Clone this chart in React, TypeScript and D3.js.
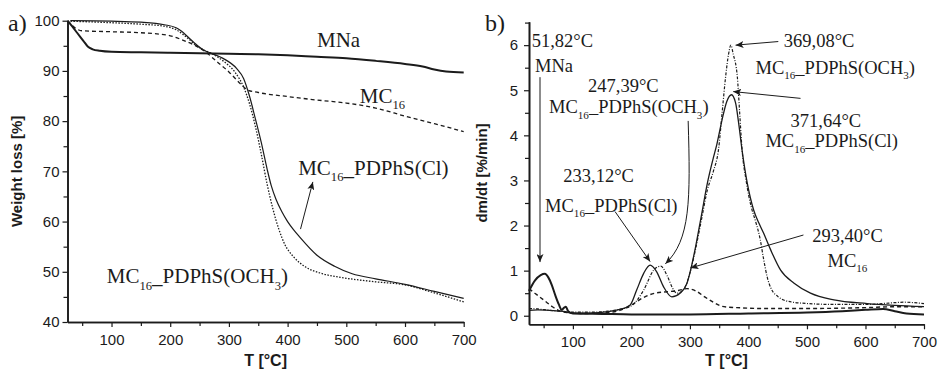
import React, { useEffect, useRef } from 'react';
import * as d3 from 'd3';

// ---- a) TG curves: temperature [°C] and weight [%] ----
const tgMNaT = [25, 32, 42, 52, 60, 68, 80, 100, 150, 200, 250, 300, 350, 400, 450, 500, 550, 600, 630, 650, 670, 700];
const tgMNa = [100, 99.0, 97.5, 96.0, 94.8, 94.3, 94.0, 93.8, 93.7, 93.6, 93.5, 93.4, 93.3, 93.1, 92.8, 92.5, 92.0, 91.4, 90.9, 90.3, 89.9, 89.7];

const tgMC16T = [25, 32, 40, 50, 100, 150, 200, 220, 240, 260, 280, 300, 320, 332, 350, 400, 450, 500, 550, 600, 650, 700];
const tgMC16 = [100, 99.2, 98.4, 98.0, 97.8, 97.6, 97.0, 96.2, 95.2, 93.8, 91.8, 89.8, 87.4, 86.2, 85.7, 84.9, 84.2, 83.6, 82.6, 81.0, 79.5, 77.9];

const tgClT = [30, 100, 150, 190, 210, 217, 239, 256, 270, 290, 313, 325, 335, 345, 355, 365, 372, 380, 390, 400, 410, 420, 450, 480, 510, 550, 600, 650, 700];
const tgCl = [100, 99.9, 99.7, 99.2, 98.6, 98.1, 95.8, 94.2, 93.5, 92.5, 90.5, 88.5, 85.0, 80.5, 75.8, 70.5, 67.2, 64.5, 62.0, 60.0, 58.4, 57.0, 53.3, 51.1, 49.6, 48.6, 47.5, 46.1, 44.7];

const tgOCH3T = [30, 100, 150, 190, 210, 230, 245, 260, 270, 290, 310, 325, 335, 345, 355, 365, 375, 385, 395, 410, 430, 460, 490, 550, 600, 650, 700];
const tgOCH3 = [99.9, 99.6, 99.3, 98.9, 98.2, 96.5, 95.0, 94.0, 93.5, 92.0, 89.8, 86.8, 83.5, 79.0, 73.5, 67.5, 62.5, 58.5, 55.5, 53.0, 51.0, 49.6, 48.9, 48.0, 47.4, 45.8, 44.0];

// ---- b) DTG curves: temperature [°C] and dm/dt [%/min] ----
const dtgMNaT = [25, 35, 45, 52, 58, 64, 70, 76, 81, 85, 88, 92, 100, 150, 200, 300, 400, 500, 560, 600, 630, 650, 670, 700];
const dtgMNa = [0.55, 0.78, 0.9, 0.93, 0.85, 0.68, 0.45, 0.25, 0.13, 0.18, 0.2, 0.1, 0.05, 0.04, 0.03, 0.03, 0.05, 0.07, 0.1, 0.13, 0.15, 0.1, 0.05, 0.03];

const dtgMC16T = [25, 35, 45, 55, 65, 75, 90, 120, 150, 180, 200, 220, 240, 260, 280, 295, 310, 325, 340, 352, 365, 380, 420, 500, 600, 650, 700];
const dtgMC16 = [0.6, 0.5, 0.4, 0.3, 0.2, 0.12, 0.07, 0.05, 0.06, 0.12, 0.24, 0.4, 0.5, 0.53, 0.56, 0.6, 0.55, 0.42, 0.3, 0.22, 0.19, 0.18, 0.16, 0.16, 0.18, 0.2, 0.2];

const dtgClT = [25, 40, 60, 80, 100, 130, 160, 180, 198, 209, 221, 232, 243, 255, 269, 283, 295, 300, 310, 320, 330, 340, 346, 355, 363, 371, 378, 383, 389, 398, 409, 418, 426, 438, 455, 478, 506, 546, 603, 650, 700];
const dtgCl = [0.12, 0.13, 0.12, 0.1, 0.06, 0.06, 0.09, 0.14, 0.24, 0.57, 0.94, 1.12, 0.98, 0.64, 0.42, 0.5, 0.72, 0.95, 1.55, 2.25, 2.95, 3.5, 3.8, 4.35, 4.75, 4.9, 4.72, 4.3, 3.68, 2.94, 2.34, 2.05, 1.83, 1.46, 1.01, 0.72, 0.5, 0.35, 0.27, 0.23, 0.2];

const dtgOCH3T = [25, 40, 60, 80, 100, 130, 160, 180, 200, 221, 238, 250, 262, 270, 278, 290, 300, 310, 320, 330, 340, 349, 355, 361, 366, 370, 374, 381, 385, 389, 396, 405, 412, 420, 426, 432, 440, 450, 460, 490, 550, 600, 640, 665, 700];
const dtgOCH3 = [0.16, 0.15, 0.12, 0.1, 0.08, 0.08, 0.1, 0.14, 0.22, 0.57, 1.01, 1.1, 0.86, 0.62, 0.5, 0.6, 0.95, 1.5, 2.15, 2.8, 3.2, 3.7, 4.5, 5.3, 5.8, 6.0, 5.8, 5.3, 4.5, 3.7, 3.0, 2.4, 2.1, 1.7, 1.25, 0.86, 0.57, 0.43, 0.35, 0.28, 0.25, 0.25, 0.28, 0.3, 0.27];

const tgTicks = [40, 50, 60, 70, 80, 90, 100];
const dtgTicks = [0, 1, 2, 3, 4, 5, 6];
const tTicks = [100, 200, 300, 400, 500, 600, 700];

type Part = { t: string; sub?: boolean };
const lblMNa: Part[] = [{ t: 'MNa' }];
const lblMC16: Part[] = [{ t: 'MC' }, { t: '16', sub: true }];
const lblCl: Part[] = [{ t: 'MC' }, { t: '16', sub: true }, { t: '_' }, { t: 'PDPhS(Cl)' }];
const lblOCH3: Part[] = [{ t: 'MC' }, { t: '16', sub: true }, { t: '_' }, { t: 'PDPhS(OCH' }, { t: '3', sub: true }, { t: ')' }];

// labels placed in data units (T, value)
const tgLabels: [number, number, Part[]][] = [
  [450, 94.8, lblMNa],
  [523, 83.6, lblMC16],
  [418, 69.3, lblCl],
  [92, 47.7, lblOCH3],
];
const dtgLabels: [number, number, Part[]][] = [
  [29.6, 5.96, [{ t: '51,82°C' }]],
  [35.3, 5.41, lblMNa],
  [126, 4.97, [{ t: '247,39°C' }]],
  [59.2, 4.49, lblOCH3],
  [460.4, 5.96, [{ t: '369,08°C' }]],
  [412, 5.37, lblOCH3],
  [472, 4.18, [{ t: '371,64°C' }]],
  [429, 3.74, lblCl],
  [83.7, 2.97, [{ t: '233,12°C' }]],
  [52.4, 2.31, lblCl],
  [509, 1.64, [{ t: '293,40°C' }]],
  [535, 1.09, lblMC16],
];
// arrows [T0, v0, T1, v1]
const tgArrows = [[422, 58.5, 443, 67.9]];
const dtgArrows = [
  [43.8, 5.29, 43.8, 1.19],
  [451, 6.08, 378, 6.0],
  [489, 4.82, 374, 4.97],
  [172, 2.31, 232, 1.2],
  [494, 1.79, 301, 1.06],
];

const SERIF = '"Liberation Serif", "Times New Roman", serif';
const SANS = '"Liberation Sans", Arial, sans-serif';
const INK = '#1b1b1b';

function addLabel(g: any, x: number, y: number, size: number, parts: Part[]) {
  const t = g.append('text').attr('x', x).attr('y', y)
    .attr('font-family', SERIF).attr('font-size', size).attr('fill', INK);
  let prevSub = false;
  const sh = size * 0.3;
  parts.forEach(p => {
    const dy = p.sub && !prevSub ? sh : (!p.sub && prevSub ? -sh : 0);
    t.append('tspan').attr('dy', dy).attr('font-size', p.sub ? size * 0.6 : size).text(p.t);
    prevSub = !!p.sub;
  });
}

function drawPanel(svg: any, x: any, y: any, yTicks: number[], yMinor: number[], xMinor: number[], yPad: number) {
  const g = svg.append('g');
  const xb = y.range()[0];
  const yl = x.range()[0];

  const ax = g.append('g').attr('transform', `translate(0,${xb})`)
    .call(d3.axisBottom(x).tickValues(tTicks).tickSize(5).tickSizeOuter(0).tickPadding(7).tickFormat(d3.format('d')));
  g.append('g').attr('transform', `translate(0,${xb})`)
    .call(d3.axisBottom(x).tickValues(xMinor).tickSize(4).tickSizeOuter(0).tickFormat(() => ''));
  const ay = g.append('g').attr('transform', `translate(${yl},0)`)
    .call(d3.axisLeft(y).tickValues(yTicks).tickSize(5).tickSizeOuter(0).tickPadding(yPad).tickFormat(d3.format('d')));
  g.append('g').attr('transform', `translate(${yl},0)`)
    .call(d3.axisLeft(y).tickValues(yMinor).tickSize(4).tickSizeOuter(0).tickFormat(() => ''));

  g.selectAll('.domain').attr('stroke', INK).attr('stroke-width', 1.6);
  g.selectAll('.tick line').attr('stroke', INK).attr('stroke-width', 1.2);
  [ax, ay].forEach(a => a.selectAll('text').attr('font-family', SANS).attr('font-size', 15).attr('fill', INK));
  return g;
}

function drawLine(g: any, x: any, y: any, ts: number[], vs: number[], w: number, dash: string | null) {
  const line = d3.line<number>()
    .x((_, i) => x(ts[i]))
    .y(d => y(d))
    .curve(d3.curveMonotoneX);
  g.append('path').attr('d', line(vs)).attr('fill', 'none')
    .attr('stroke', INK).attr('stroke-width', w)
    .attr('stroke-dasharray', dash);
}

export default function App() {
  const ref = useRef<SVGSVGElement>(null);

  function draw() {
    const svg = d3.select(ref.current);
    svg.selectAll('*').remove();

    svg.append('defs').append('marker')
      .attr('id', 'ah').attr('markerUnits', 'userSpaceOnUse')
      .attr('markerWidth', 9).attr('markerHeight', 7).attr('refX', 8).attr('refY', 3.5)
      .attr('orient', 'auto')
      .append('path').attr('d', 'M0,0 L8,3.5 L0,7 L2,3.5 z').attr('fill', INK);

    // ---------- a) ----------
    const xa = d3.scaleLinear().domain([25, 700]).range([67.5, 463.7]);
    const ya = d3.scaleLinear().domain([40, 100]).range([322, 20.7]);
    const ga = drawPanel(svg, xa, ya, tgTicks, d3.range(45, 100, 10), d3.range(50, 700, 100), 3);

    drawLine(ga, xa, ya, tgMC16T, tgMC16, 1.3, '4,3');
    drawLine(ga, xa, ya, tgOCH3T, tgOCH3, 1.3, '1.5,1.5');
    drawLine(ga, xa, ya, tgClT, tgCl, 1.2, null);
    drawLine(ga, xa, ya, tgMNaT, tgMNa, 2, null);

    tgLabels.forEach(([t, v, p]) => addLabel(ga, xa(t), ya(v), 21, p));
    tgArrows.forEach(([t0, v0, t1, v1]) => {
      ga.append('line').attr('x1', xa(t0)).attr('y1', ya(v0)).attr('x2', xa(t1)).attr('y2', ya(v1))
        .attr('stroke', INK).attr('stroke-width', 1).attr('marker-end', 'url(#ah)');
    });

    ga.append('text').attr('transform', `translate(22,${(ya.range()[0] + ya.range()[1]) / 2}) rotate(-90)`)
      .attr('text-anchor', 'middle').attr('font-family', SANS).attr('font-weight', 'bold')
      .attr('font-size', 15).attr('fill', INK).text('Weight loss [%]');
    ga.append('text').attr('x', (xa.range()[0] + xa.range()[1]) / 2).attr('y', 366)
      .attr('text-anchor', 'middle').attr('font-family', SANS).attr('font-weight', 'bold')
      .attr('font-size', 16).attr('fill', INK).text('T [°C]');
    ga.append('text').attr('x', 8).attr('y', 31).attr('font-family', SERIF)
      .attr('font-size', 24).attr('fill', INK).text('a)');

    // ---------- b) ----------
    const xb = d3.scaleLinear().domain([25, 700]).range([529, 924]);
    const yb = d3.scaleLinear().domain([-0.19, 6.52]).range([324.3, 21.7]);
    const gb = drawPanel(svg, xb, yb, dtgTicks, d3.range(0.5, 6.6, 1), d3.range(50, 700, 100), 6);

    drawLine(gb, xb, yb, dtgMC16T, dtgMC16, 1.4, '4,3');
    drawLine(gb, xb, yb, dtgOCH3T, dtgOCH3, 1.2, '3,1.5,1,1.5');
    drawLine(gb, xb, yb, dtgClT, dtgCl, 1.3, null);
    drawLine(gb, xb, yb, dtgMNaT, dtgMNa, 2, null);

    dtgLabels.forEach(([t, v, p]) => addLabel(gb, xb(t), yb(v), 18.5, p));
    dtgArrows.forEach(([t0, v0, t1, v1]) => {
      gb.append('line').attr('x1', xb(t0)).attr('y1', yb(v0)).attr('x2', xb(t1)).attr('y2', yb(v1))
        .attr('stroke', INK).attr('stroke-width', 1).attr('marker-end', 'url(#ah)');
    });
    // curved pointer for 247,39°C
    const cp = d3.path();
    cp.moveTo(xb(297), yb(4.32));
    cp.bezierCurveTo(xb(301), yb(2.56), xb(301), yb(1.68), xb(258), yb(1.15));
    gb.append('path').attr('d', cp.toString()).attr('fill', 'none')
      .attr('stroke', INK).attr('stroke-width', 1).attr('marker-end', 'url(#ah)');

    gb.append('text').attr('transform', `translate(487,${(yb.range()[0] + yb.range()[1]) / 2}) rotate(-90)`)
      .attr('text-anchor', 'middle').attr('font-family', SANS).attr('font-weight', 'bold')
      .attr('font-size', 15).attr('fill', INK).text('dm/dt [%/min]');
    gb.append('text').attr('x', (xb.range()[0] + xb.range()[1]) / 2).attr('y', 366)
      .attr('text-anchor', 'middle').attr('font-family', SANS).attr('font-weight', 'bold')
      .attr('font-size', 16).attr('fill', INK).text('T [°C]');
    gb.append('text').attr('x', 485).attr('y', 31).attr('font-family', SERIF)
      .attr('font-size', 24).attr('fill', INK).text('b)');
  }

  useEffect(() => {
    draw();
  }, []);

  return (
    <svg ref={ref} width={939} height={371}
      style={{ position: 'absolute', left: 0, top: 0, background: '#fff' }} />
  );
}
